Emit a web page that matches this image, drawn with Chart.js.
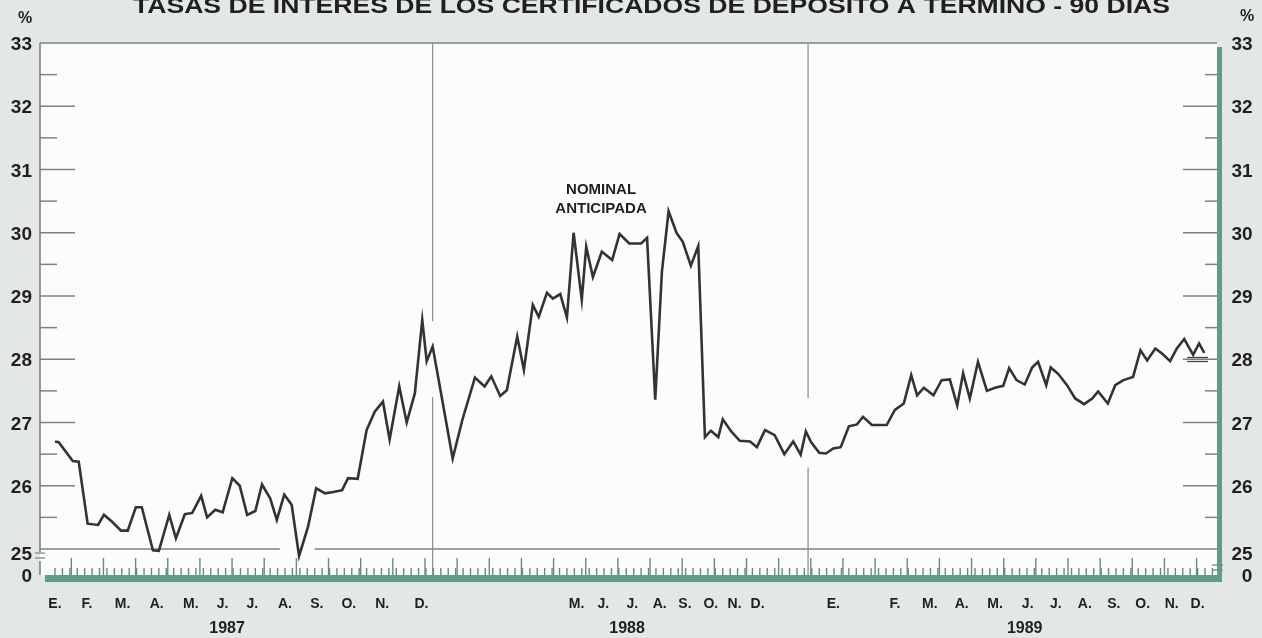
<!DOCTYPE html>
<html><head><meta charset="utf-8">
<script src="https://cdn.jsdelivr.net/npm/chart.js@4.4.0/dist/chart.umd.min.js"></script>
<style>
html,body{margin:0;padding:0;background:#e3e8e5;}
#wrap{width:1262px;height:638px;position:relative;overflow:hidden;}
</style></head><body>
<div id="wrap"><canvas id="c" width="1262" height="638"></canvas></div>
<script>
const titleText = 'TASAS DE INTERES DE LOS CERTIFICADOS DE DEPOSITO A TERMINO - 90 DIAS';
const seriesName = ['NOMINAL', 'ANTICIPADA'];

// semanas (week number from Jan 1987) and tasas (%)
const weeks1987 = [0.0,0.5,2.4,3.2,4.4,5.8,6.6,7.7,8.9,9.8,10.9,11.7,13.2,14.0,15.4,16.3,17.5,18.5,19.7,20.5,21.6,22.6,23.9,24.9,25.9,27.0,27.9,29.0,29.9,30.9,31.9,32.9,34.1,35.2,36.4,37.5,38.7,39.5,40.8,42.0,43.1,44.2,45.1,46.4,47.4,48.5,49.5,50.1,50.9];
const rates1987 = [26.70,26.69,26.39,26.38,25.40,25.38,25.54,25.43,25.29,25.29,25.66,25.66,24.98,24.97,25.54,25.17,25.55,25.57,25.84,25.50,25.62,25.58,26.12,26.00,25.54,25.60,26.02,25.80,25.46,25.86,25.70,24.89,25.35,25.96,25.88,25.90,25.93,26.12,26.11,26.88,27.17,27.33,26.73,27.57,27.00,27.46,28.62,27.97,28.20];
const weeks1988 = [51.9,53.6,54.9,56.6,57.9,58.8,60.0,60.9,62.3,63.2,64.4,65.2,66.3,67.1,68.1,69.0,69.9,71.0,71.6,72.5,73.7,75.1,76.1,77.4,79.0,79.8,80.9,81.8,82.7,83.8,84.6,85.7,86.7,87.6,88.4,89.4,90.0,91.2,92.3,93.7,94.6,95.7,97.0,98.3,99.5,100.5,101.2];
const rates1988 = [27.55,26.43,27.04,27.71,27.57,27.73,27.42,27.51,28.36,27.83,28.86,28.67,29.05,28.96,29.03,28.66,30.00,28.94,29.78,29.30,29.70,29.57,29.98,29.83,29.83,29.92,27.36,29.38,30.34,29.99,29.86,29.48,29.79,26.77,26.87,26.77,27.05,26.85,26.71,26.70,26.61,26.88,26.80,26.50,26.70,26.49,26.86];
const weeks1989 = [101.9,103.0,103.9,104.9,105.9,107.0,108.1,108.9,110.1,112.1,113.2,114.4,115.4,116.2,117.1,118.4,119.5,120.6,121.6,122.4,123.3,124.4,125.6,126.7,127.8,128.6,129.6,130.7,131.7,132.5,133.6,134.2,135.2,136.4,137.5,138.7,139.8,140.6,141.9,142.9,144.0,145.3,146.3,147.2,148.3,149.2,150.3,151.2,152.2,153.4,154.2,154.9];
const rates1989 = [26.69,26.52,26.51,26.59,26.61,26.94,26.97,27.09,26.96,26.96,27.20,27.30,27.75,27.43,27.55,27.43,27.67,27.68,27.27,27.78,27.38,27.96,27.50,27.55,27.58,27.86,27.67,27.60,27.87,27.96,27.59,27.87,27.77,27.59,27.38,27.29,27.38,27.49,27.30,27.59,27.67,27.72,28.14,27.98,28.17,28.09,27.97,28.17,28.32,28.07,28.25,28.10];

// axis labels
const yTickLabels = ['25','26','27','28','29','30','31','32','33'];
const yTickValues = [25,26,27,28,29,30,31,32,33];
const monthLabels = ['E.','F.','M.','A.','M.','J.','J.','A.','S.','O.','N.','D.',
                     'M.','J.','J.','A.','S.','O.','N.','D.',
                     'E.','F.','M.','A.','M.','J.','J.','A.','S.','O.','N.','D.'];
const monthWeeks = [0,4.3,9.1,13.7,18.3,22.6,26.6,31,35.3,39.6,44.1,49.4,
                    70.3,73.9,77.8,81.5,84.9,88.4,91.6,94.7,
                    104.9,113.2,117.9,122.2,126.7,131.1,134.9,138.8,142.7,146.6,150.5,154.0];
const yearLabels = ['1987','1988','1989'];
const yearWeeks = [23.2,77.1,130.7];
const yearSeparators = [50.9, 101.5];

const weeks = weeks1987.concat(weeks1988, weeks1989);
const rates = rates1987.concat(rates1988, rates1989);

const FONT = '"Liberation Sans", Arial, Helvetica, sans-serif';
const GREEN = '#5f9d88';
const GREY = '#808080';
const TXT = '#1f1f1f';

function rateAt(w){
  for(let i=1;i<weeks.length;i++){
    if(weeks[i]>=w){const t=(w-weeks[i-1])/(weeks[i]-weeks[i-1]);return rates[i-1]+t*(rates[i]-rates[i-1]);}
  }
  return rates[rates.length-1];
}

const deco = {
  id:'deco',
  beforeDatasetsDraw(chart){
    const {ctx, chartArea:a, scales:{x,y}} = chart;
    const L = a.left-2, R = a.right-1, T = a.top, B = a.bottom;
    const bandY = 575;
    ctx.save();
    ctx.fillStyle = '#fcfcfb';
    ctx.fillRect(L, T, R-L, bandY-T);
    const seg=(x1,y1,x2,y2)=>{ctx.beginPath();ctx.moveTo(x1,y1);ctx.lineTo(x2,y2);ctx.stroke();};
    ctx.strokeStyle = GREY; ctx.lineWidth = 1.6;
    seg(L, T, R, T);           // top border
    seg(L, T, L, B+3);         // left axis
    seg(L, B+12, L, bandY);
    // y ticks
    ctx.lineWidth = 1.5;
    for(let v=25.5; v<33; v+=0.5){
      const py = y.getPixelForValue(v);
      const major = Math.abs(v-Math.round(v))<0.01;
      seg(L, py, L+(major?35:17), py);
      seg(R, py, R-(major?34:12), py);
    }
    // baseline 25 with gap where series dips below
    const gaps = [];
    weeks.forEach((w,i)=>{ if(rates[i]<24.93) gaps.push([x.getPixelForValue(w-2.6), x.getPixelForValue(w+2.1)]); });
    let sx = L;
    ctx.lineWidth = 1.4;
    gaps.forEach(g=>{ seg(sx,B,g[0],B); sx=g[1]; });
    seg(sx,B,R,B);
    // year separators with gaps around series
    ctx.lineWidth = 1.2; ctx.strokeStyle = '#8a8a8a';
    yearSeparators.forEach(w=>{
      const px = x.getPixelForValue(w);
      const r = rateAt(w);
      seg(px, T, px, y.getPixelForValue(r+0.4+ (w<60?0:0.2)));
      seg(px, y.getPixelForValue(r-(w<60?0.8:0.5)), px, bandY);
    });
    // bottom tick strip
    ctx.strokeStyle = '#6a8a80'; ctx.lineWidth = 1.4;
    for(let k=0;k<=156;k++){
      const px = x.getPixelForValue(k);
      seg(px, bandY, px, bandY-7);
    }
    for(let k=0;k<36;k++){
      const px = x.getPixelForValue(k*52/12+2.2);
      seg(px, bandY, px, bandY-17);
    }
    // green bands
    ctx.fillStyle = GREEN;
    ctx.fillRect(L+5, bandY, R-L, 7);
    ctx.fillRect(R, T+4, 5, bandY+7-T-4);
    // break marks
    ctx.strokeStyle = '#6f8f84'; ctx.lineWidth = 1.3;
    seg(L-5, B+4, L+5, B+4); seg(L-5, B+9, L+5, B+9);
    seg(R-5, B+16, R+6, B+16); seg(R-5, B+21, R+6, B+21);
    ctx.restore();
  },
  afterDraw(chart){
    const {ctx, chartArea:a, scales:{x,y}} = chart;
    ctx.save();
    ctx.fillStyle = TXT;
    // title (cut by the top edge)
    ctx.font = 'bold 22px '+FONT;
    const tw = ctx.measureText(titleText).width;
    ctx.save();
    ctx.translate(133, 13);
    ctx.scale(1037/tw, 1);
    ctx.textAlign='left'; ctx.textBaseline='alphabetic';
    ctx.fillText(titleText, 0, 0);
    ctx.restore();
    // percent signs
    ctx.font = 'bold 16px '+FONT; ctx.textAlign='center'; ctx.textBaseline='middle';
    ctx.fillText('%', 25, 19);
    ctx.fillText('%', 1247, 17);
    // y labels
    ctx.font = 'bold 19px '+FONT;
    yTickValues.forEach((v,i)=>{
      let py = y.getPixelForValue(v)+2;
      if(v===25) py += 4;
      ctx.textAlign='right'; ctx.fillText(yTickLabels[i], 32, py);
      ctx.textAlign='center'; ctx.fillText(yTickLabels[i], 1242, py);
    });
    ctx.textAlign='right'; ctx.fillText('0', 32, 577);
    ctx.textAlign='center'; ctx.fillText('0', 1247, 577);
    // month labels
    ctx.font = 'bold 14px '+FONT; ctx.textAlign='center';
    monthLabels.forEach((m,i)=>ctx.fillText(m, x.getPixelForValue(monthWeeks[i]), 604));
    ctx.font = 'bold 16px '+FONT;
    yearLabels.forEach((t,i)=>ctx.fillText(t, x.getPixelForValue(yearWeeks[i]), 629));
    // series annotation
    ctx.font = 'bold 15px '+FONT;
    ctx.fillText(seriesName[0], x.getPixelForValue(73.6), 190);
    ctx.fillText(seriesName[1], x.getPixelForValue(73.6), 209);
    // end marker (double rule)
    ctx.strokeStyle = '#444'; ctx.lineWidth = 1.3;
    [357.5, 361.5].forEach(py=>{ctx.beginPath();ctx.moveTo(x.getPixelForValue(152.6),py);ctx.lineTo(x.getPixelForValue(155.4),py);ctx.stroke();});
    ctx.restore();
  }
};

new Chart(document.getElementById('c'), {
  type:'line',
  data:{ datasets:[{
    data: weeks.map((w,i)=>({x:w, y:rates[i]})),
    borderColor:'#333333', borderWidth:2.6, pointRadius:0, tension:0, fill:false, clip:false,
    borderJoinStyle:'miter'
  }]},
  options:{
    responsive:false, animation:false, devicePixelRatio:1,
    layout:{padding:{left:42, right:44, top:43, bottom:89}},
    scales:{
      x:{type:'linear', min:-1.75, max:156.75, display:false},
      y:{min:25, max:33, display:false}
    },
    plugins:{legend:{display:false}, tooltip:{enabled:false}}
  },
  plugins:[deco]
});
</script>
</body></html>
